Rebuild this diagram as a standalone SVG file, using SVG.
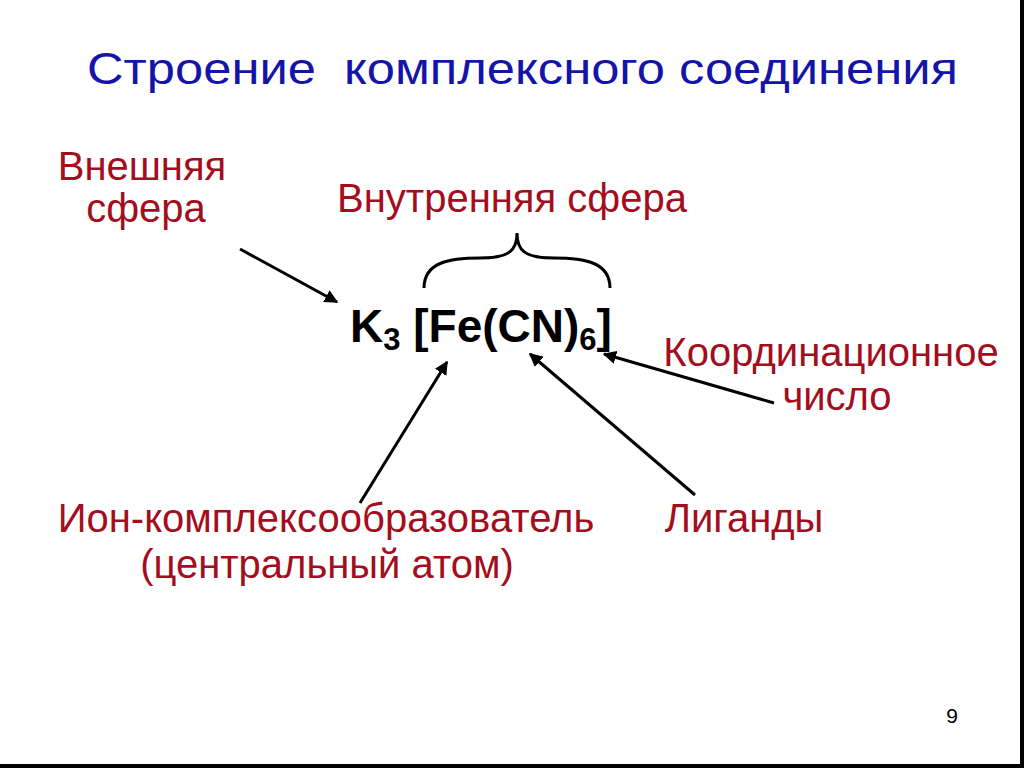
<svg xmlns="http://www.w3.org/2000/svg" width="1024" height="768" viewBox="0 0 1024 768">
<defs>
<style>
.t{font-family:"Liberation Sans",Arial,sans-serif;}
.red{fill:#a30d1d;font-size:40px;}
.blue{fill:#1414a8;font-size:45px;}
.f{fill:#000;font-size:46px;font-weight:bold;}
.c{stroke:#000;stroke-width:3;fill:none;marker-end:url(#ah);}
</style>
<marker id="ah" viewBox="0 0 10 10" refX="9" refY="5" markerWidth="4.5" markerHeight="4.5" orient="auto" markerUnits="strokeWidth">
<path d="M0,0 L10,5 L0,10 z" fill="#000"/>
</marker>
</defs>
<rect width="1024" height="768" fill="#fff"/>
<rect x="1020" y="0" width="4" height="768" fill="#000"/>
<rect x="0" y="764" width="1024" height="4" fill="#000"/>
<g id="title"><text class="t blue" x="87" y="84" textLength="871" lengthAdjust="spacingAndGlyphs" xml:space="preserve">Строение  комплексного соединения</text></g>
<g id="outer"><text class="t red" text-anchor="middle"><tspan x="142" y="180">Внешняя</tspan><tspan x="146" y="222">сфера</tspan></text></g>
<g id="inner"><text class="t red" x="512" y="212" text-anchor="middle">Внутренняя сфера</text></g>
<g id="formula"><text class="t f" x="350" y="342">K<tspan font-size="31" dy="8">3</tspan><tspan dy="-8"> [Fe(CN)</tspan><tspan font-size="31" dy="8">6</tspan><tspan dy="-8">]</tspan></text>
<path d="M424,288 C424,262 450,258 480,258 C510,258 517,250 517,233 C517,250 524,258 554,258 C584,258 610,262 610,288" fill="none" stroke="#000" stroke-width="3"/></g>
<g id="coord"><text class="t red" text-anchor="middle"><tspan x="831" y="366">Координационное</tspan><tspan x="837" y="410">число</tspan></text></g>
<g id="ion"><text class="t red" text-anchor="middle"><tspan x="326" y="532">Ион-комплексообразователь</tspan><tspan x="327" y="578">(центральный атом)</tspan></text></g>
<g id="ligands"><text class="t red" x="744" y="532" text-anchor="middle">Лиганды</text></g>
<g id="page"><text class="t" x="952" y="723" font-size="21" text-anchor="middle" fill="#000">9</text></g>
<g id="connectors">
<line class="c" x1="240" y1="249" x2="337" y2="302"/>
<line class="c" x1="360" y1="503" x2="447" y2="362"/>
<line class="c" x1="695" y1="495" x2="530" y2="354"/>
<line class="c" x1="774" y1="403" x2="604" y2="354"/>
</g>
</svg>
